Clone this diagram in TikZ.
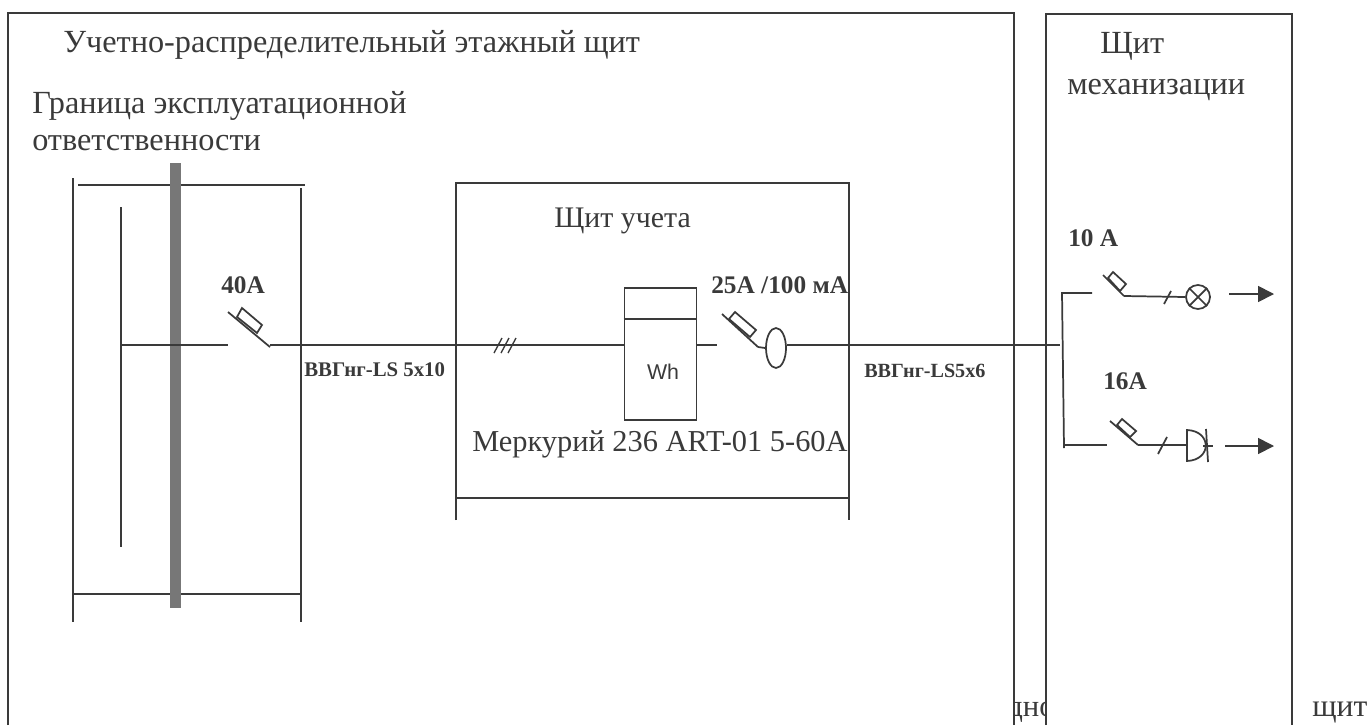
\documentclass[tikz,border=0pt]{standalone}
\usepackage{fontspec}
\setmainfont{Liberation Serif}
\newfontfamily\arialf{Liberation Sans}
\usetikzlibrary{arrows.meta,shapes.geometric}
\definecolor{ink}{HTML}{3A3A3A}
\definecolor{band}{HTML}{777777}
\tikzset{
  x=0.75pt,y=-0.75pt,
  wire/.style={draw=ink,line width=1.3pt},
  thinw/.style={draw=ink,line width=1pt},
  lbl/.style={inner sep=0pt,anchor=base west,text=ink,font=\fontsize{24.2}{26}\selectfont},
  boldlbl/.style={inner sep=0pt,anchor=base west,text=ink,font=\bfseries\fontsize{19}{21}\selectfont},
  cable/.style={inner sep=0pt,anchor=base west,text=ink,font=\bfseries\fontsize{15.6}{17}\selectfont},
  arrowline/.style={wire,-{Triangle[length=12pt,width=12pt]}},
}
\begin{document}
\begin{tikzpicture}
\useasboundingbox (0,0) rectangle (1369,725);
\fill[white] (0,0) rectangle (1369,725);
% cut-off fragments
\begin{scope}
\clip (1015,690) rectangle (1046,725);
\node[lbl,font=\fontsize{23}{25}\selectfont] (f1) at (1007,716) {дно};
\end{scope}
\node[lbl,font=\fontsize{23.7}{26}\selectfont] (f2) at (1312,716) {щит};
% outer panels
\coordinate (mA) at (8,725); \coordinate (mB) at (8,13); \coordinate (mC) at (1014,13); \coordinate (mD) at (1014,725);
\draw[wire] (mA) -- (mB) -- (mC) -- (mD);
\coordinate (sA) at (1046,725); \coordinate (sB) at (1046,14); \coordinate (sC) at (1292,14); \coordinate (sD) at (1292,725);
\draw[wire] (sA) -- (sB) -- (sC) -- (sD);
\node[lbl] (t1) at (63,52) {Учетно-распределительный этажный щит};
\node[lbl] (t2) at (1100,53) {Щит};
\node[lbl] (t3) at (1067,94) {механизации};
\node[lbl] (t4) at (32,113) {Граница эксплуатационной};
\node[lbl] (t5) at (32,150) {ответственности};
% left panel
\coordinate (l1) at (73,178); \coordinate (l2) at (73,622);
\coordinate (l3) at (301,188); \coordinate (l4) at (301,622);
\coordinate (l5) at (78,185); \coordinate (l6) at (305,185);
\coordinate (l7) at (73,594); \coordinate (l8) at (301,594);
\draw[wire] (l1) -- (l2); \draw[wire] (l3) -- (l4);
\draw[wire] (l5) -- (l6); \draw[wire] (l7) -- (l8);
\fill[band] (170,163) rectangle (181,608);
\coordinate (bus1) at (121,207); \coordinate (bus2) at (121,547);
\draw[wire] (bus1) -- (bus2);
\coordinate (busT) at (121,345); \coordinate (q1a) at (228,345);
\draw[wire] (busT) -- (q1a);
% breaker 40A
\coordinate (q1t) at (228,312); \coordinate (q1b) at (270,347);
\draw[wire] (q1t) -- (q1b);
\draw[wire] (242,308) -- (262,325) -- (257,333) -- (237,317) -- cycle;
\node[boldlbl] (a40) at (221,293) {40A};
% meter box
\coordinate (b1) at (456,183); \coordinate (b2) at (456,520);
\coordinate (b3) at (849,183); \coordinate (b4) at (849,520);
\coordinate (b5) at (456,498); \coordinate (b6) at (849,498);
\draw[wire] (b2) -- (b1) -- (b3) -- (b4);
\draw[wire] (b5) -- (b6);
\node[lbl,font=\fontsize{22.4}{24}\selectfont] (t6) at (554,227) {Щит учета};
\node[draw=ink,line width=1.3pt,minimum width=54pt,minimum height=99pt,inner sep=0pt] (wh) at (660.5,354) {};
\coordinate (wh1) at (wh.west|-0,319); \coordinate (wh2) at (wh.east|-0,319);
\draw[thinw] (wh1) -- (wh2);
\node[inner sep=0pt,text=ink,font=\arialf\fontsize{16}{18}\selectfont] (wht) at (663,372) {Wh};
\node[lbl,font=\fontsize{22.8}{25}\selectfont] (t7) at (472,451) {Меркурий 236 ART-01 5-60A};
% main line
\coordinate (m1) at (270,345);
\coordinate (wl) at (wh.west|-0,345);
\draw[wire] (m1) -- (wl);
\draw[thinw] (494,353) -- (502,338) (501,353) -- (509,338) (508,353) -- (516,338);
\node[cable] (c1) at (304,376) {ВВГнг-LS 5x10};
\coordinate (wr) at (wh.east|-0,345); \coordinate (wr2) at (717,345);
\draw[wire] (wr) -- (wr2);
% RCD breaker
\coordinate (q2t) at (722,314); \coordinate (q2b) at (758,347);
\draw[wire] (q2t) -- (q2b);
\draw[wire] (735,312) -- (756,330) -- (750,337) -- (729,319) -- cycle;
\node[draw=ink,line width=1.3pt,ellipse,minimum width=15pt,minimum height=30pt,inner sep=0pt] (rcd) at (776,348) {};
\draw[wire] (q2b) -- (rcd.west);
\node[boldlbl] (a25) at (711,293) {25А /100 мА};
\coordinate (jn) at (1060,345);
\draw[wire] (rcd.east|-0,345) -- (jn);
\node[cable,font=\bfseries\fontsize{15.1}{17}\selectfont] (c2) at (864,377) {ВВГнг-LS5x6};
% distribution
\coordinate (d1) at (1092,293); \coordinate (d2) at (1062,293); \coordinate (d3) at (1064,448); \coordinate (d4) at (1064,445); \coordinate (d5) at (1107,445);
\draw[wire] (d1) -- (d2) -- (d3);
\draw[wire] (d4) -- (d5);
\node[boldlbl] (a10) at (1068,246) {10 А};
\node[boldlbl] (a16) at (1103,389) {16А};
% upper feeder
\coordinate (u1) at (1103,275); \coordinate (u2) at (1124,296);
\draw[wire] (u1) -- (u2);
\draw[wire] (1113,272) -- (1126,284) -- (1120,291) -- (1108,278) -- cycle;
\node[draw=ink,line width=1.3pt,circle,minimum size=18pt,inner sep=0pt] (lamp) at (1198,297) {};
\draw[wire] (lamp.north west) -- (lamp.south east) (lamp.north east) -- (lamp.south west);
\draw[wire] (u2) -- (lamp.west);
\draw[wire] (1164,304) -- (1171,291);
\coordinate (ua1) at (1229,294); \coordinate (ua2) at (1274,294);
\draw[arrowline] (ua1) -- (ua2);
% lower feeder
\coordinate (v1) at (1110,421); \coordinate (v2) at (1138,445);
\draw[wire] (v1) -- (v2);
\draw[wire] (1122,419) -- (1136,431) -- (1130,437) -- (1117,425) -- cycle;
\coordinate (s1) at (1187,430); \coordinate (s2) at (1187,461); \coordinate (sm) at (1187,445);
\draw[wire] (s1) .. controls (1212,431) and (1212,460) .. (s2) -- cycle;
\draw[wire] (v2) -- (sm);
\draw[wire] (1158,454) -- (1167,437);
\coordinate (sb1) at (1206,429); \coordinate (sb2) at (1208,462);
\draw[wire] (sb1) -- (sb2);
\coordinate (sc1) at (1203,446); \coordinate (sc2) at (1213,446);
\draw[wire] (sc1) -- (sc2);
\coordinate (va1) at (1225,446); \coordinate (va2) at (1274,446);
\draw[arrowline] (va1) -- (va2);
\end{tikzpicture}
\end{document}
